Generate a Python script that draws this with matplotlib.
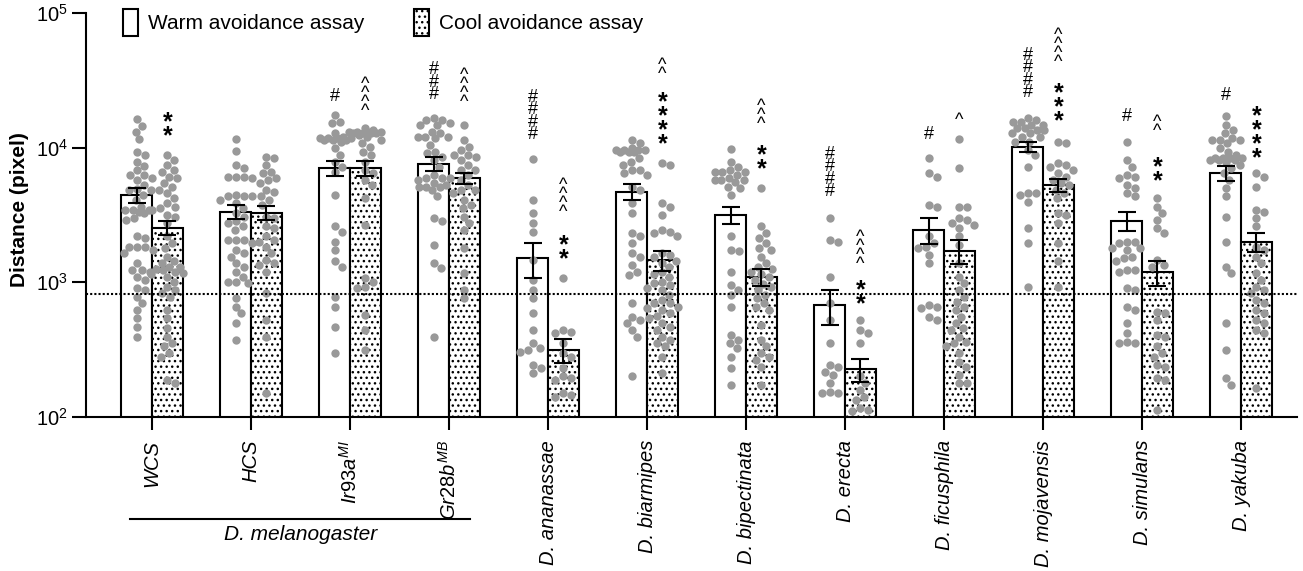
import matplotlib
matplotlib.use("Agg")
import matplotlib.pyplot as plt
import numpy as np
from matplotlib.patches import Patch
from matplotlib.ticker import NullLocator
from matplotlib.transforms import blended_transform_factory

plt.rcParams['font.family'] = 'Liberation Sans'
plt.rcParams['mathtext.fontset'] = 'custom'
plt.rcParams['mathtext.rm'] = 'Liberation Sans'
plt.rcParams['mathtext.it'] = 'Liberation Sans:italic'
plt.rcParams['hatch.linewidth'] = 1.0

# groups and tick labels
groups = ['WCS', 'HCS', r'$\mathit{Ir93a}^{MI}$', r'$\mathit{Gr28b}^{MB}$', 'D. ananassae', 'D. biarmipes',
          'D. bipectinata', 'D. erecta', 'D. ficusphila', 'D. mojavensis', 'D. simulans', 'D. yakuba']

# bar heights (mean) and SEM
warm_mean = [4460, 3350, 7070, 7570, 1520, 4710, 3150, 679, 2460, 10170, 2870, 6520]
warm_sem = [560, 390, 900, 885, 440, 645, 460, 198, 543, 905, 476, 828]
cool_mean = [2550, 3300, 7100, 5930, 316, 1466, 1100, 226, 1718, 5280, 1188, 1995]
cool_sem = [300, 420, 900, 590, 65, 252, 155, 44, 344, 570, 253, 319]

# individual flies (pixel distance)
warm_pts = [
    [16200, 14500, 13100, 11500, 9340, 8830, 7880, 7310, 6830, 6270, 6270, 5920, 5760, 5290, 4910, 4860, 4860,
     4460, 4090, 3650, 3450, 3450, 3450, 3350, 3260, 2990, 2910, 2190, 2130, 1840, 1840, 1840, 1740, 1640, 1390,
     1240, 1240, 1200, 1100, 1040, 904, 880, 784, 699, 624, 541, 464, 395],
    [11500, 9450, 7450, 7030, 6100, 6100, 6100, 5920, 4460, 4340, 4340, 4340, 4090, 3860, 3550, 3260, 3070, 2830,
     2750, 2600, 2450, 2070, 2070, 2070, 1950, 1740, 1640, 1550, 1390, 1310, 1200, 1100, 1010, 1010, 984, 762,
     660, 589, 497, 374],
    [17500, 15600, 15200, 12800, 12100, 11700, 11700, 11700, 11700, 11400, 11400, 11400, 11100, 9890, 8830, 7880,
     7230, 6640, 4460, 2600, 2380, 2010, 1740, 1430, 1310, 784, 660, 469, 297],
    [16500, 16100, 16100, 15200, 14700, 14700, 13100, 12800, 12100, 12100, 12100, 11700, 10500, 9340, 9090, 8580,
     8110, 7230, 6270, 5920, 5920, 5920, 5760, 5440, 5290, 5140, 5140, 5140, 4860, 4340, 2990, 2830, 1900, 1390,
     1270, 395],
    [8200, 4090, 3260, 2780, 2380, 1470, 1040, 880, 762, 589, 443, 353, 325, 315, 306, 244, 230, 211],
    [11400, 10800, 9890, 9620, 9620, 9620, 9620, 9340, 9340, 9340, 8340, 7880, 7450, 6830, 6830, 6450, 6270, 5140,
     4860, 3860, 3260, 2310, 2190, 1950, 1640, 1550, 1350, 1200, 1140, 699, 557, 526, 497, 443, 395, 200],
    [9730, 7880, 7230, 6830, 6640, 6640, 6640, 6270, 5920, 5760, 5760, 5760, 5600, 5140, 5000, 4460, 2190, 1740,
     1700, 1200, 957, 880, 806, 660, 407, 374, 353, 325, 281, 230, 173],
    [2990, 2070, 2010, 1100, 699, 526, 353, 244, 237, 217, 205, 178, 154, 150, 150],
    [8340, 6450, 6100, 3760, 3650, 2190, 1950, 1840, 1790, 1600, 1390, 680, 660, 641, 557, 526],
    [16600, 16100, 15500, 15500, 14800, 14800, 14000, 14000, 13500, 13500, 12800, 12800, 12000, 12000, 11000,
     11000, 9600, 8830, 7190, 4620, 4620, 4460, 3950, 2530, 1960, 925],
    [11100, 8110, 7230, 6270, 6100, 5920, 5290, 5000, 4580, 4340, 2010, 2010, 1950, 1790, 1790, 1740, 1550, 1510,
     1430, 1240, 1240, 1200, 904, 880, 660, 624, 497, 419, 363, 353, 353],
    [17200, 14700, 13500, 12800, 11700, 11400, 11400, 11400, 10800, 9890, 9340, 8830, 8340, 8340, 8340, 8340, 8110,
     8110, 8110, 7880, 7450, 7030, 6450, 5760, 5000, 4340, 3070, 2010, 1310, 1170, 497, 315, 194, 173],
]
cool_pts = [
    [8830, 8110, 7450, 6830, 6640, 6100, 5920, 5440, 5140, 4860, 4580, 4210, 3860, 3650, 3550, 3450, 3160, 3070,
     2750, 2190, 1950, 1790, 1550, 1450, 1390, 1310, 1300, 1250, 1240, 1200, 1170, 1150, 1100, 1010, 929, 880, 830,
     784, 624, 541, 456, 395, 353, 334, 297, 281, 188, 178],
    [8580, 8340, 7450, 6640, 6450, 5920, 5760, 5440, 4860, 4720, 4340, 4090, 3760, 3070, 2990, 2600, 2520, 2190,
     2070, 2010, 1840, 1640, 1470, 1390, 1350, 1200, 830, 526, 395, 150],
    [13900, 13500, 13100, 13100, 13100, 13100, 12800, 12800, 12800, 12800, 12400, 12100, 11400, 10800, 10200, 9340,
     8830, 7880, 6830, 6450, 5760, 5290, 4210, 2670, 1070, 1010, 929, 904, 573, 443, 315],
    [14700, 11400, 10200, 9620, 8830, 8830, 8580, 8110, 7450, 6830, 6830, 6270, 5760, 5290, 4860, 4860, 4580, 4090,
     3760, 3550, 3070, 2750, 2450, 1790, 1170, 880, 762],
    [1070, 443, 431, 419, 353, 297, 281, 230, 200, 194, 188, 150, 146, 141],
    [7660, 7450, 3860, 3650, 3160, 2450, 2380, 2310, 2190, 1640, 1600, 1550, 1450, 1390, 1300, 1200, 1150, 1100,
     1010, 984, 950, 900, 880, 806, 740, 700, 699, 660, 650, 624, 589, 560, 541, 497, 469, 443, 395, 374, 353, 334,
     281, 211],
    [5000, 2600, 2310, 2130, 1950, 1790, 1740, 1550, 1390, 1310, 1250, 1200, 1150, 1100, 1040, 980, 929, 880, 806,
     762, 699, 660, 624, 483, 374, 334, 297, 281, 265, 237, 173],
    [526, 443, 419, 353, 200, 178, 159, 141, 134, 116, 113, 110],
    [11500, 7030, 3650, 3650, 2990, 2910, 2750, 2670, 2520, 2190, 1900, 1390, 1100, 984, 880, 784, 720, 660, 624,
     557, 497, 456, 443, 395, 363, 353, 334, 297, 258, 237, 205, 178, 178],
    [11100, 10800, 7660, 7450, 7230, 6830, 6450, 6100, 5760, 5440, 5290, 4860, 4580, 4210, 3260, 3160, 2750, 1950,
     1430, 929],
    [4210, 3650, 3260, 2910, 2520, 2310, 1470, 1350, 1310, 607, 589, 526, 407, 395, 334, 297, 281, 244, 237, 194,
     188, 113],
    [6450, 6100, 5140, 3450, 3350, 2990, 2600, 1840, 1740, 1550, 1390, 1170, 1040, 929, 880, 830, 740, 699, 624,
     589, 526, 497, 443, 419, 164],
]

# significance marks: (group, assay, symbol, count, y of lowest mark)
marks = [
    (0, 'cool', '*', 2, 13800),
    (2, 'warm', '#', 1, 24600), (2, 'cool', '^', 4, 20400),
    (3, 'warm', '#', 3, 25500), (3, 'cool', '^', 4, 23800),
    (4, 'warm', '#', 4, 12900), (4, 'cool', '^', 4, 3630), (4, 'cool', '*', 2, 1680),
    (5, 'cool', '^', 2, 37800), (5, 'cool', '*', 4, 12000),
    (6, 'cool', '^', 3, 16100), (6, 'cool', '*', 2, 7830),
    (7, 'warm', '#', 4, 4850), (7, 'cool', '^', 4, 1490), (7, 'cool', '*', 2, 780),
    (8, 'warm', '#', 1, 12900), (8, 'cool', '^', 1, 17500),
    (9, 'warm', '#', 4, 26400), (9, 'cool', '^', 4, 47100), (9, 'cool', '*', 3, 17800),
    (10, 'warm', '#', 1, 17500), (10, 'cool', '^', 2, 14300), (10, 'cool', '*', 2, 6380),
    (11, 'warm', '#', 1, 25100), (11, 'cool', '*', 4, 9440),
]
threshold = 815

W, H = 1303, 571
fig = plt.figure(figsize=(W / 100, H / 100), dpi=100)
ax = fig.add_axes([86 / W, 1 - 417 / H, 1211 / W, 404 / H])
ax.set_yscale('log')
ax.set_ylim(100, 1e5)
ax.set_xlim(-0.667, 11.565)

x = np.arange(len(groups))
bw = 0.31
off = 0.155
px_x = 1211 / (11.565 + 0.667)
px_dec = 404 / 3.0


def swarm(xc, vals, dot=8.0, half=16):
    # simple beeswarm in pixel space, returns x positions
    ys = np.log10(np.asarray(vals, float)) * px_dec
    order = np.argsort(-ys)
    cand = [0]
    for k in range(1, half + 1):
        cand += [k, -k]
    placed = []
    xs = np.zeros(len(ys))
    for i in order:
        best, best_ov = 0, 1e9
        for c in cand:
            ov = 0.0
            for (px, py) in placed:
                d = np.hypot(px - c, py - ys[i])
                if d < dot:
                    ov = max(ov, dot - d)
            if ov == 0:
                best = c
                break
            if ov < best_ov:
                best, best_ov = c, ov
        placed.append((best, ys[i]))
        xs[i] = best
    return xc + xs / px_x


ax.bar(x - off, warm_mean, bw, bottom=0, color='white', edgecolor='black', lw=1.5, zorder=1)
ax.bar(x + off, cool_mean, bw, bottom=0, color='white', edgecolor='black', lw=1.5, hatch='...', zorder=1)

for i in range(len(groups)):
    ax.scatter(swarm(x[i] - off, warm_pts[i]), warm_pts[i], s=36, color='#999999', lw=0, zorder=2)
    ax.scatter(swarm(x[i] + off, cool_pts[i]), cool_pts[i], s=36, color='#999999', lw=0, zorder=2)

ax.errorbar(x - off, warm_mean, yerr=warm_sem, fmt='none', ecolor='black', elinewidth=1.5,
            capsize=6.5, capthick=1.5, zorder=3)
ax.errorbar(x + off, cool_mean, yerr=cool_sem, fmt='none', ecolor='black', elinewidth=1.5,
            capsize=6.5, capthick=1.5, zorder=3)

ax.axhline(threshold, color='black', lw=1.5, ls=(0, (1, 1)), zorder=4)

# stacked significance symbols, each symbol its own text
sym_step = {'#': 12.5, '^': 9.0, '*': 14.0}
sym_size = {'#': 13, '^': 13, '*': 18}
sym_mid = {'#': 0.35, '^': 0.53, '*': 0.58}
for g, side, sym, n, yv in marks:
    xs = x[g] - off if side == 'warm' else x[g] + off
    fs_px = sym_size[sym] * 100 / 72
    for k in range(n):
        ax.annotate(sym, xy=(xs, yv), xytext=(0, k * sym_step[sym] - sym_mid[sym] * fs_px),
                    textcoords='offset pixels', ha='center', va='baseline',
                    fontsize=sym_size[sym], fontweight='bold' if sym == '*' else 'normal',
                    annotation_clip=False, zorder=5)

ax.spines['top'].set_visible(False)
ax.spines['right'].set_visible(False)
ax.spines['left'].set_linewidth(1.5)
ax.spines['bottom'].set_linewidth(1.5)
ax.set_yticks([1e2, 1e3, 1e4, 1e5])
ax.yaxis.set_minor_locator(NullLocator())
ax.tick_params(axis='y', length=10, width=1.5, labelsize=14.5, pad=3)
ax.tick_params(axis='x', length=9.5, width=1.5, labelsize=14.5, pad=7)
ax.set_xticks(x)
ax.set_xticklabels(groups, rotation=90, fontstyle='italic')

fig.text(20 / W, 1 - 210 / H, 'Distance (pixel)', rotation=90, fontsize=15, fontweight='bold',
         ha='center', va='center')

# D. melanogaster bracket under first four strains
tr = blended_transform_factory(ax.transData, ax.transAxes)
ax.plot([-0.22, 3.21], [-0.2525, -0.2525], color='black', lw=1.5, transform=tr, clip_on=False)
ax.text(1.5, -0.292, 'D. melanogaster', transform=tr, ha='center', va='center', fontsize=15,
        fontstyle='italic')

handles = [Patch(facecolor='white', edgecolor='black', lw=1.5),
           Patch(facecolor='white', edgecolor='black', lw=1.5, hatch='...')]
ax.legend(handles, ['Warm avoidance assay', 'Cool avoidance assay'], ncol=2, frameon=False, fontsize=15,
          loc='upper left', bbox_to_anchor=(123 / W, 1 - 9 / H), bbox_transform=fig.transFigure,
          borderpad=0, borderaxespad=0, handlelength=0.72, handleheight=1.6, handletextpad=0.48,
          columnspacing=2.4)

fig.savefig('out.png', dpi=100)
